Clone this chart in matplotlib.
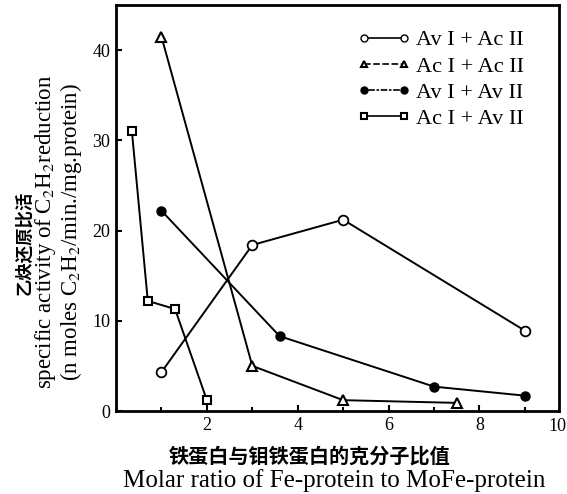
import matplotlib
matplotlib.use("Agg")
import matplotlib.pyplot as plt
from matplotlib.lines import Line2D

plt.rcParams['font.family'] = ['Liberation Serif', 'Noto Sans CJK SC']
plt.rcParams['mathtext.fontset'] = 'stix'

# Data
avI_acII_x = [1, 3, 5, 9]
avI_acII_y = [4.3, 18.4, 21.2, 8.9]
acI_acII_x = [1, 3, 5, 7.5]
acI_acII_y = [41.5, 5.0, 1.2, 0.9]
avI_avII_x = [1, 3.6, 7, 9]
avI_avII_y = [22.2, 8.3, 2.7, 1.7]
acI_avII_x = [0.35, 0.7, 1.3, 2.0]
acI_avII_y = [31.0, 12.2, 11.3, 1.2]

labels = ["Av I + Ac II", "Ac I + Ac II", "Av I + Av II", "Ac I + Av II"]
xticks = [2, 4, 6, 8]
yticks = [0, 10, 20, 30, 40]

W, H = 567, 494
fig = plt.figure(figsize=(W / 100, H / 100), dpi=100)
ax = fig.add_axes([116 / W, 1 - 411 / H, (559 - 116) / W, (411 - 5) / H])

lw = 1.4
ax.plot(avI_acII_x, avI_acII_y, '-', color='black', lw=lw, marker='o', ms=7,
        mfc='white', mec='black', mew=1.3, zorder=3)
ax.plot(acI_acII_x, acI_acII_y, '-', color='black', lw=lw, marker='^', ms=7,
        mfc='white', mec='black', mew=1.5, zorder=3)
ax.plot(avI_avII_x, avI_avII_y, '-', color='black', lw=lw, marker='o', ms=6.5,
        mfc='black', mec='black', zorder=3)
ax.plot(acI_avII_x, acI_avII_y, '-', color='black', lw=lw, marker='s', ms=6,
        mfc='white', mec='black', mew=1.5, zorder=3)

ax.set_xlim(0, 9.75)
ax.set_ylim(0, 45)
ax.set_xticks(xticks)
ax.set_xticks([1, 3, 5, 7, 9], minor=True)
ax.set_yticks(yticks)
ax.tick_params(axis='both', which='major', direction='in', length=4, width=1.5,
               labelsize=13, pad=4)
ax.tick_params(axis='x', which='minor', direction='in', length=3, width=1.5)
for s in ax.spines.values():
    s.set_linewidth(2.0)
fig.text(566 / W, 1 - 418 / H, "10", ha='right', va='top', fontsize=13)

handles = [
    Line2D([], [], color='black', lw=1.2, marker='o', ms=5, mfc='white', mec='black'),
    Line2D([], [], color='black', lw=1.2, ls=(0, (4, 1.5)), marker='^', ms=5, mfc='white', mec='black', mew=1.5),
    Line2D([], [], color='black', lw=1.2, ls=(0, (1.5, 1, 4, 1)), marker='o', ms=5, mfc='black', mec='black'),
    Line2D([], [], color='black', lw=1.2, marker='s', ms=5, mfc='white', mec='black', mew=1.5),
]
leg = ax.legend(handles, labels, loc='upper left',
                bbox_to_anchor=((348 - 116) / (559 - 116), 1 - (21 - 5) / 406),
                frameon=False, numpoints=2, handlelength=2.4, handletextpad=0.25,
                fontsize=16, labelspacing=0.25, borderaxespad=0)

# Y-axis labels
fig.text(24 / W, 1 - 243 / H, "乙炔还原比活", rotation=90, ha='center', va='center',
         fontsize=12.5, family=['Noto Sans CJK SC'], fontweight='bold')
fig.text(46 / W, 1 - 232 / H, "specific activity of C$_2$H$_2$reduction", rotation=90,
         ha='center', va='center', fontsize=16.5)
fig.text(71 / W, 1 - 232 / H, "(n moles C$_2$H$_2$/min./mg.protein)", rotation=90,
         ha='center', va='center', fontsize=16.5)

# X-axis labels
fig.text(310 / W, 1 - 456 / H, "铁蛋白与钼铁蛋白的克分子比值", ha='center', va='center',
         fontsize=14.5, family=['Noto Sans CJK SC'], fontweight='bold')
fig.text(334 / W, 1 - 481 / H, "Molar ratio of Fe-protein to MoFe-protein", ha='center',
         va='center', fontsize=18)

fig.savefig("out.png", dpi=100)
